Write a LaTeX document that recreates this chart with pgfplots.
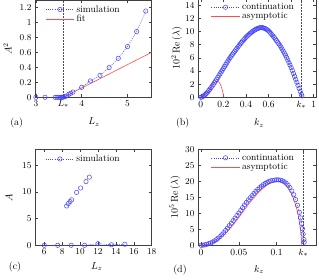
\documentclass[border=0pt]{standalone}
\usepackage{pgfplots}
\pgfplotsset{compat=1.18}
\definecolor{mblue}{rgb}{0.25,0.25,1}
\definecolor{mred}{rgb}{1,0.3,0.3}
\pgfplotsset{
  every axis/.append style={
    scale only axis, anchor=south west,
    tick align=inside, xtick pos=both, ytick pos=both,
    axis line style={black!75}, tick style={black!75, line width=0.5pt},
    major tick length=3pt,
    ymin=0,
    clip marker paths=false,
    tick label style={font=\fontsize{9.5}{10}\selectfont},
    label style={font=\fontsize{10}{11}\selectfont},
    legend style={draw=none, fill=none, font=\fontsize{9.5}{10}\selectfont,
      row sep=-2.5pt, inner sep=1pt},
    legend cell align=left,
    legend image code/.code={\draw[mark repeat=2,mark phase=2] plot coordinates {(0cm,0cm)(0.5cm,0cm)(1cm,0cm)};},
  },
  sim/.style={mblue, line width=0.5pt, dash pattern=on 1pt off 1.2pt, mark=o, mark size=2.2pt, mark options={solid}},
  asy/.style={mred, line width=0.6pt, solid},
  vline/.style={black!70, densely dotted, line width=0.5pt, forget plot},
}
\begin{document}
\begin{tikzpicture}
\useasboundingbox (0,0) rectangle (319pt,-280pt);
% (a)
\begin{axis}[at={(35pt,-97.3pt)}, width=116.7pt, height=97.5pt,
  xmin=2.98, xmax=5.53, ymax=1.3,
  xtick={3,4,5}, extra x ticks={3.6}, extra x tick labels={$L_*$},
  ytick={0,0.2,0.4,0.6,0.8,1,1.2},
  xlabel={$L_z$}, ylabel={$A^2$},
  xlabel style={at={(axis description cs:0.506,-0.255)}, anchor=center},
  ylabel style={at={(axis description cs:-0.236,0.5)}, anchor=center},
  legend style={at={(axis description cs:0.08,0.975)}, anchor=north west}]
\addplot[vline] coordinates {(3.6,0) (3.6,1.3)};
\addplot[sim] coordinates {(3.0,0) (3.2,0) (3.42,0) (3.46,0) (3.5,0) (3.53,0) (3.56,0) (3.58,0) (3.6,0.003) (3.63,0.008) (3.67,0.018) (3.72,0.04) (3.76,0.053) (3.81,0.07) (4.0,0.133) (4.19,0.218) (4.4,0.293) (4.6,0.396) (4.8,0.52) (5.0,0.676) (5.2,0.876) (5.4,1.15)};
\addlegendentry{simulation}
\addplot[asy] coordinates {(3.6,0) (5.53,0.6)};
\addlegendentry{fit}
\end{axis}
\node at (16.7pt,-122.7pt) {\fontsize{10}{11}\selectfont (a)};
% (b)
\begin{axis}[at={(198pt,-97.3pt)}, width=118pt, height=98.6pt,
  xmin=-0.025, xmax=1.02, ymax=15,
  xtick={0,0.2,0.4,0.6,0.8,1}, xticklabels={0,0.2,0.4,0.6,,1},
  extra x ticks={0.89}, extra x tick labels={$k_*$},
  ytick={0,2,4,6,8,10,12,14},
  xlabel={$k_z$}, ylabel={$10^2\,\mathrm{Re}\,(\lambda)$},
  xlabel style={at={(axis description cs:0.517,-0.26)}, anchor=center},
  ylabel style={at={(axis description cs:-0.18,0.5)}, anchor=center},
  legend style={at={(axis description cs:0.1,0.985)}, anchor=north west}]
\addplot[vline] coordinates {(0.89,0) (0.89,15)};
\addplot[sim] coordinates {
(0.00,0.0) (0.01,0.05) (0.02,0.15) (0.03,0.28) (0.04,0.43) (0.05,0.6) (0.06,0.8) (0.07,1.02) (0.08,1.24) (0.09,1.47)
(0.10,1.7) (0.11,1.95) (0.12,2.21) (0.13,2.47) (0.14,2.73) (0.15,3.0) (0.16,3.28) (0.17,3.56) (0.18,3.84) (0.19,4.12)
(0.20,4.4) (0.21,4.68) (0.22,4.96) (0.23,5.24) (0.24,5.52) (0.25,5.8) (0.26,6.05) (0.27,6.3) (0.28,6.54) (0.29,6.77)
(0.30,7.0) (0.31,7.23) (0.32,7.46) (0.33,7.69) (0.34,7.92) (0.35,8.14) (0.36,8.35) (0.37,8.56) (0.38,8.76) (0.39,8.95)
(0.40,9.13) (0.41,9.3) (0.42,9.46) (0.43,9.62) (0.44,9.77) (0.45,9.91) (0.46,10.04) (0.47,10.16) (0.48,10.27) (0.49,10.37)
(0.50,10.45) (0.51,10.52) (0.52,10.57) (0.53,10.6) (0.54,10.6) (0.55,10.57) (0.56,10.52) (0.57,10.45) (0.58,10.36) (0.59,10.24)
(0.60,10.1) (0.61,9.92) (0.62,9.73) (0.63,9.53) (0.64,9.32) (0.65,9.1) (0.66,8.87) (0.67,8.63) (0.68,8.39) (0.69,8.15)
(0.70,7.9) (0.71,7.62) (0.72,7.33) (0.73,7.03) (0.74,6.72) (0.75,6.4) (0.76,6.04) (0.77,5.67) (0.78,5.29) (0.79,4.9)
(0.80,4.5) (0.81,4.07) (0.82,3.63) (0.83,3.18) (0.84,2.73) (0.85,2.28) (0.86,1.82) (0.87,1.36) (0.88,0.9) (0.89,0.45) (0.895,0.2)};
\addlegendentry{continuation}
\addplot[asy] coordinates {(0,0) (0.02,0.093) (0.04,0.362) (0.06,0.774) (0.08,1.275) (0.10,1.789) (0.12,2.217) (0.14,2.441) (0.15,2.432) (0.16,2.318) (0.17,2.077) (0.18,1.687) (0.19,1.124) (0.20,0.362) (0.204,0)};
\addlegendentry{asymptotic}
\end{axis}
\node at (182.7pt,-122.7pt) {\fontsize{10}{11}\selectfont (b)};
% (c)
\begin{axis}[at={(35pt,-245.3pt)}, width=116.7pt, height=96pt,
  xmin=4.96, xmax=18, ymax=18,
  xtick={6,8,10,12,14,16,18}, ytick={0,5,10,15},
  xlabel={$L_z$}, ylabel={$A$},
  xlabel style={at={(axis description cs:0.53,-0.22)}, anchor=center},
  ylabel style={at={(axis description cs:-0.223,0.5)}, anchor=center},
  legend style={at={(axis description cs:0.08,0.975)}, anchor=north west}]
\addplot[sim] coordinates {(6,0) (7.5,0) (9,0) (10.5,0) (12,0.3) (13.5,0.1) (15,0.2)};
\addlegendentry{simulation}
\addplot[sim, only marks, forget plot] coordinates {(8.5,7.37) (8.68,7.82) (8.87,8.2) (9.05,8.52) (9.61,9.92) (10.06,10.74) (10.66,11.95) (11.03,12.78)};
\end{axis}
\node at (15pt,-266.7pt) {\fontsize{10}{11}\selectfont (c)};
% (d)
\begin{axis}[at={(198pt,-245.3pt)}, width=118pt, height=96pt,
  xmin=-0.004, xmax=0.152, ymax=30,
  xtick={0,0.05,0.1}, xticklabels={0,0.05,0.1},
  extra x ticks={0.1354}, extra x tick labels={$k_*$},
  ytick={0,5,10,15,20,25,30},
  xlabel={$k_z$}, ylabel={$10^5\,\mathrm{Re}\,(\lambda)$},
  xlabel style={at={(axis description cs:0.517,-0.25)}, anchor=center},
  ylabel style={at={(axis description cs:-0.195,0.5)}, anchor=center},
  legend style={at={(axis description cs:0.1,0.985)}, anchor=north west}]
\addplot[vline] coordinates {(0.1354,0) (0.1354,30)};
\addplot[sim] coordinates {
(0,0.0) (0.0025,0.05) (0.005,0.15) (0.0075,0.3) (0.01,0.5) (0.0125,0.7) (0.015,1.0) (0.0175,1.35) (0.02,1.75) (0.0225,2.2)
(0.025,2.7) (0.0275,3.3) (0.03,3.95) (0.0325,4.65) (0.035,5.4) (0.0375,6.15) (0.04,6.9) (0.0425,7.7) (0.045,8.5) (0.0475,9.3)
(0.05,10.1) (0.0525,10.9) (0.055,11.75) (0.0575,12.6) (0.06,13.4) (0.0625,14.15) (0.065,14.85) (0.0675,15.55) (0.07,16.2) (0.0725,16.85)
(0.075,17.45) (0.0775,18.0) (0.08,18.5) (0.0825,18.95) (0.085,19.35) (0.0875,19.7) (0.09,19.95) (0.0925,20.15) (0.095,20.3) (0.0975,20.4)
(0.1,20.45) (0.1025,20.45) (0.105,20.35) (0.1075,20.15) (0.11,19.85) (0.1125,19.4) (0.115,18.8) (0.1175,18.0) (0.12,17.0) (0.1225,15.8)
(0.125,14.3) (0.1275,12.5) (0.13,10.3) (0.1315,8.6) (0.133,6.8) (0.134,5.2) (0.135,3.5) (0.136,1.8) (0.1365,1.0)};
\addlegendentry{continuation}
\addplot[asy] coordinates {(0,0) (0.005,0.05) (0.01,0.3) (0.015,0.75) (0.02,1.35) (0.025,2.15) (0.03,3.15) (0.035,4.35) (0.04,5.7) (0.045,7.15) (0.05,8.7) (0.055,10.3) (0.06,11.9) (0.065,13.45) (0.07,14.9) (0.075,16.2) (0.08,17.4) (0.085,18.4) (0.09,19.2) (0.095,19.75) (0.1,20.0) (0.105,19.9) (0.11,19.3) (0.115,18.1) (0.12,16.0) (0.125,12.7) (0.128,10.0) (0.13,7.5) (0.1315,4.8) (0.1325,2.5) (0.133,0)};
\addlegendentry{asymptotic}
\end{axis}
\node at (180pt,-270pt) {\fontsize{10}{11}\selectfont (d)};
\end{tikzpicture}
\end{document}
